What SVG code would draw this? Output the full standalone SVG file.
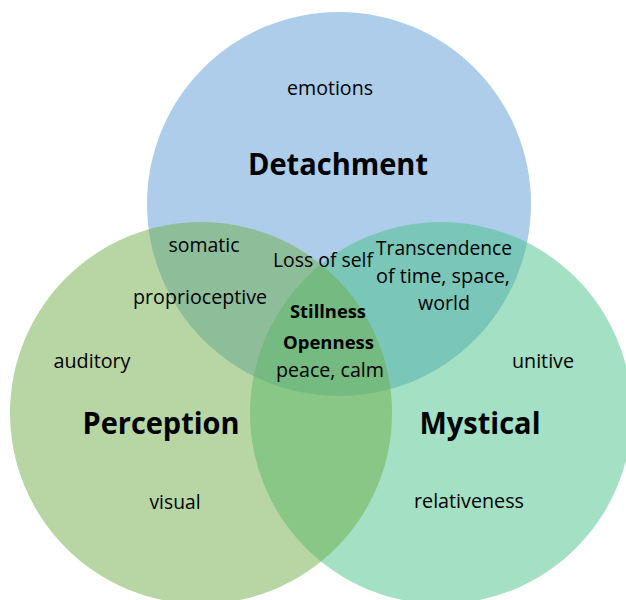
<svg xmlns="http://www.w3.org/2000/svg" width="626" height="600" viewBox="0 0 626 600">
<style>
.c{fill-opacity:0.5;stroke:none}
.t{font-family:"Open Sans","Liberation Sans",sans-serif;font-size:19.5px;fill:#000;text-anchor:middle}
.b{font-family:"Open Sans","Liberation Sans",sans-serif;font-weight:bold;fill:#000;text-anchor:middle}
</style>
<rect width="626" height="600" fill="#fff"/>
<g id="detachment">
<circle class="c" cx="339" cy="204" r="192" fill="#5B9BD5"/>
</g>
<g id="mystical">
<circle class="c" cx="441" cy="413" r="191" fill="#47C189"/>
</g>
<g id="perception">
<circle class="c" cx="201" cy="413" r="191" fill="#70AD47"/>
</g>
<g id="connectors"></g>
<g id="labels">
<text class="t" x="330" y="95" textLength="86" lengthAdjust="spacingAndGlyphs">emotions</text>
<text class="b" x="338" y="175" font-size="31" textLength="180" lengthAdjust="spacingAndGlyphs">Detachment</text>
<text class="t" x="204" y="252" textLength="71" lengthAdjust="spacingAndGlyphs">somatic</text>
<text class="t" x="323" y="267" textLength="100" lengthAdjust="spacingAndGlyphs">Loss of self</text>
<text class="t" x="444" y="255" textLength="136" lengthAdjust="spacingAndGlyphs">Transcendence</text>
<text class="t" x="443" y="283" textLength="134" lengthAdjust="spacingAndGlyphs">of time, space,</text>
<text class="t" x="444" y="310" textLength="52" lengthAdjust="spacingAndGlyphs">world</text>
<text class="t" x="200" y="304" textLength="134" lengthAdjust="spacingAndGlyphs">proprioceptive</text>
<text class="b" x="328" y="318" font-size="18" textLength="76" lengthAdjust="spacingAndGlyphs">Stillness</text>
<text class="b" x="328.5" y="349" font-size="18" textLength="91" lengthAdjust="spacingAndGlyphs">Openness</text>
<text class="t" x="330" y="377" textLength="108" lengthAdjust="spacingAndGlyphs">peace, calm</text>
<text class="t" x="92" y="368" textLength="77" lengthAdjust="spacingAndGlyphs">auditory</text>
<text class="t" x="543" y="368" textLength="62" lengthAdjust="spacingAndGlyphs">unitive</text>
<text class="b" x="161" y="434" font-size="31" textLength="157" lengthAdjust="spacingAndGlyphs">Perception</text>
<text class="b" x="480" y="434" font-size="31" textLength="121" lengthAdjust="spacingAndGlyphs">Mystical</text>
<text class="t" x="175" y="509" textLength="51" lengthAdjust="spacingAndGlyphs">visual</text>
<text class="t" x="469" y="508" textLength="110" lengthAdjust="spacingAndGlyphs">relativeness</text>
</g>
</svg>
